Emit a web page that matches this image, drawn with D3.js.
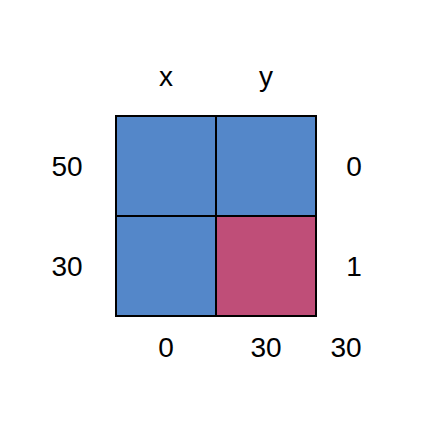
<!DOCTYPE html>
<html><head><meta charset="utf-8">
<script src="https://cdn.jsdelivr.net/npm/d3@7"></script>
<style>body{margin:0;background:#fff}</style>
</head><body>
<script>
const columns = ["x", "y"];
const rowLabelsLeft = ["50", "30"];
const rowLabelsRight = ["0", "1"];
const bottomLabels = ["0", "30"];
const cornerLabel = "30";
const cellValues = [[0, 0], [0, 1]];

const W = 432, H = 432;
const svg = d3.select("body").append("svg").attr("width", W).attr("height", H);
const font = "Liberation Sans, Arial, sans-serif";

const x = d3.scaleBand().domain(columns).range([116, 316]);
const y = d3.scaleBand().domain(d3.range(rowLabelsLeft.length)).range([116, 316]);
const color = d3.scaleOrdinal().domain([0, 1]).range(["#5487C9", "#BF4E78"]);

const cells = [];
cellValues.forEach((row, i) => row.forEach((v, j) => cells.push({ r: i, c: columns[j], v })));

svg.selectAll("rect.cell").data(cells).join("rect")
  .attr("class", "cell")
  .attr("x", d => x(d.c)).attr("y", d => y(d.r))
  .attr("width", x.bandwidth()).attr("height", y.bandwidth())
  .attr("fill", d => color(d.v))
  .attr("stroke", "#000").attr("stroke-width", 2);

const txt = (sel) => sel.attr("font-family", font).attr("font-size", 28).attr("fill", "#000").attr("text-anchor", "middle");

svg.selectAll("text.top").data(columns).join("text").attr("class", "top").call(txt)
  .attr("x", d => x(d) + x.bandwidth() / 2).attr("y", 86).text(d => d);

svg.selectAll("text.left").data(rowLabelsLeft).join("text").attr("class", "left").call(txt)
  .attr("x", 67).attr("y", (d, i) => y(i) + y.bandwidth() / 2 + 10).text(d => d);

svg.selectAll("text.right").data(rowLabelsRight).join("text").attr("class", "right").call(txt)
  .attr("x", 354).attr("y", (d, i) => y(i) + y.bandwidth() / 2 + 10).text(d => d);

svg.selectAll("text.bottom").data(bottomLabels).join("text").attr("class", "bottom").call(txt)
  .attr("x", (d, i) => x(columns[i]) + x.bandwidth() / 2).attr("y", 357).text(d => d);

svg.append("text").call(txt).attr("x", 346).attr("y", 357).text(cornerLabel);
</script>
</body></html>
